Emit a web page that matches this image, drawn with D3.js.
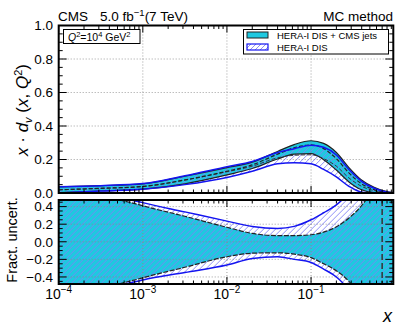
<!DOCTYPE html>
<html><head><meta charset="utf-8">
<script src="https://cdn.jsdelivr.net/npm/d3@7"></script>
<style>
html,body{margin:0;padding:0;background:#fff;}
svg{display:block;font-family:"Liberation Sans",Arial,Helvetica,sans-serif;}
</style></head>
<body><svg id="c" width="399" height="332"></svg>
<script>
// ---- data ----
const xVals = [1e-4, 3.16e-4, 1e-3, 3.16e-3, 1e-2, 0.02, 0.04, 0.063, 0.1, 0.141, 0.2, 0.282, 0.398, 0.562, 0.794, 0.95];
// top panel: x*dv(x,Q2)
const cmsCentral  = [0.019,0.028,0.039,0.078,0.130,0.168,0.232,0.270,0.287,0.265,0.205,0.120,0.055,0.020,0.004,0.001];
const cmsUp       = [0.036,0.044,0.055,0.100,0.151,0.184,0.248,0.289,0.312,0.296,0.242,0.152,0.078,0.034,0.008,0.002];
const cmsLo       = [0.002,0.012,0.023,0.055,0.108,0.146,0.203,0.232,0.235,0.199,0.137,0.066,0.019,0.003,0.000,0.000];
const heraCentral = [0.019,0.028,0.039,0.077,0.127,0.160,0.210,0.225,0.228,0.205,0.160,0.090,0.040,0.014,0.003,0.0005];
const heraUp      = [0.038,0.044,0.056,0.103,0.157,0.188,0.242,0.264,0.285,0.273,0.227,0.140,0.070,0.028,0.006,0.001];
const heraLo      = [0.000,0.012,0.022,0.050,0.093,0.130,0.174,0.180,0.174,0.141,0.096,0.040,0.005,0.000,0.000,0.000];
// bottom panel: fractional uncertainties
const cmsUpF  = [0.90,0.56,0.41,0.29,0.165,0.095,0.07,0.07,0.08,0.11,0.17,0.27,0.41,0.62,0.90,1.10];
const cmsLoF  = [-0.90,-0.56,-0.41,-0.29,-0.17,-0.13,-0.125,-0.14,-0.18,-0.25,-0.33,-0.45,-0.65,-0.90,-1.10,-1.20];
const heraUpF = [1.00,0.58,0.445,0.34,0.235,0.175,0.152,0.175,0.25,0.33,0.42,0.56,0.80,1.00,1.20,1.30];
const heraLoF = [-1.00,-0.58,-0.435,-0.35,-0.265,-0.19,-0.17,-0.20,-0.235,-0.31,-0.40,-0.55,-0.80,-1.00,-1.20,-1.30];
const xTicks = [1e-4, 1e-3, 1e-2, 1e-1];
const xTickExp = ["\u22124","\u22123","\u22122","\u22121"];
const yTicksTop = [0.0,0.2,0.4,0.6,0.8,1.0];
const yTicksBot = [-0.4,-0.2,0.0,0.2,0.4];
const dashedX = 0.7;

// ---- layout ----
const L = 58.7, R = 393.3;
const topY0 = 25.5, topY1 = 193;
const botY0 = 200, botY1 = 284;
const CYAN = "#1fc8e0", BLUE = "#1414f0", HATCH = "#8282f5", DARK = "#222";

const svg = d3.select("#c");
const x = d3.scaleLog().domain([1e-4, 0.95]).range([L, R]);
const yT = d3.scaleLinear().domain([0, 1]).range([topY1, topY0]);
const yB = d3.scaleLinear().domain([-0.48, 0.475]).range([botY1, botY0]);

const defs = svg.append("defs");
defs.append("clipPath").attr("id","clipT").append("rect")
  .attr("x",L).attr("y",topY0).attr("width",R-L).attr("height",topY1-topY0);
defs.append("clipPath").attr("id","clipB").append("rect")
  .attr("x",L).attr("y",botY0).attr("width",R-L).attr("height",botY1-botY0);

const idx = d3.range(xVals.length);
const curve = d3.curveMonotoneX;
function band(y, lo, hi){ return d3.area().curve(curve).x(i=>x(xVals[i])).y0(i=>y(lo[i])).y1(i=>y(hi[i]))(idx); }
function line(y, v){ return d3.line().curve(curve).x(i=>x(xVals[i])).y(i=>y(v[i]))(idx); }

function hatchInto(g, id, d, x0, x1, y0, y1, step){
  defs.append("clipPath").attr("id",id).append("path").attr("d",d);
  const hg = g.append("g").attr("clip-path",`url(#${id})`);
  const H = y1 - y0;
  for (let s = x0 - H - step; s < x1 + step; s += step){
    hg.append("line").attr("x1",s).attr("y1",y1).attr("x2",s+H).attr("y2",y0)
      .attr("stroke",HATCH).attr("stroke-width",0.9);
  }
}

function grid(g, y, yt){
  xTicks.slice(1).forEach(t=>{
    g.append("line").attr("x1",x(t)).attr("x2",x(t)).attr("y1",y.range()[1]).attr("y2",y.range()[0])
      .attr("stroke","#888").attr("stroke-width",0.8).attr("stroke-dasharray","1,2");
  });
  yt.forEach(t=>{
    g.append("line").attr("x1",L).attr("x2",R).attr("y1",y(t)).attr("y2",y(t))
      .attr("stroke","#888").attr("stroke-width",0.8).attr("stroke-dasharray","1,2");
  });
}
function ticks(g, y, yt, minorStep){
  const [yb, ytop] = y.range();
  const minors = [];
  for (let e=-4; e<0; e++) for (let m=1; m<10; m++){ const v=m*Math.pow(10,e); if (v<=0.95) minors.push([v, m===1]); }
  minors.forEach(([v,maj])=>{
    const len = maj?7:3.5;
    g.append("line").attr("x1",x(v)).attr("x2",x(v)).attr("y1",yb).attr("y2",yb-len).attr("stroke","#000").attr("stroke-width",1);
    g.append("line").attr("x1",x(v)).attr("x2",x(v)).attr("y1",ytop).attr("y2",ytop+len).attr("stroke","#000").attr("stroke-width",1);
  });
  const d0 = y.domain()[0], d1 = y.domain()[1];
  for (let v = Math.ceil(d0/minorStep)*minorStep; v <= d1+1e-9; v += minorStep){
    const vr = Math.round(v*1000)/1000;
    const maj = yt.some(t=>Math.abs(t-vr)<1e-6);
    const len = maj?8:4;
    g.append("line").attr("x1",L).attr("x2",L+len).attr("y1",y(vr)).attr("y2",y(vr)).attr("stroke","#000");
    g.append("line").attr("x1",R).attr("x2",R-len).attr("y1",y(vr)).attr("y2",y(vr)).attr("stroke","#000");
  }
}

// ---- top panel ----
const gT = svg.append("g").attr("clip-path","url(#clipT)");
gT.append("path").attr("d",band(yT,cmsLo,cmsUp)).attr("fill",CYAN);
hatchInto(gT, "hT", band(yT,heraLo,heraUp), L, R, topY0, topY1, 6);
grid(gT, yT, [0.2,0.4,0.6,0.8]);
gT.append("path").attr("d",line(yT,cmsUp)).attr("fill","none").attr("stroke",DARK).attr("stroke-width",1.2);
gT.append("path").attr("d",line(yT,cmsLo)).attr("fill","none").attr("stroke",DARK).attr("stroke-width",1.2);
gT.append("path").attr("d",line(yT,heraCentral)).attr("fill","none").attr("stroke","#334").attr("stroke-width",1).attr("stroke-dasharray","4,2");
gT.append("path").attr("d",line(yT,cmsCentral)).attr("fill","none").attr("stroke",DARK).attr("stroke-width",1.2).attr("stroke-dasharray","4,2");
gT.append("path").attr("d",line(yT,heraUp)).attr("fill","none").attr("stroke",BLUE).attr("stroke-width",1.5);
gT.append("path").attr("d",line(yT,heraLo)).attr("fill","none").attr("stroke",BLUE).attr("stroke-width",1.5);
ticks(svg.append("g"), yT, yTicksTop, 0.05);
svg.append("rect").attr("x",L).attr("y",topY0).attr("width",R-L).attr("height",topY1-topY0)
  .attr("fill","none").attr("stroke","#000").attr("stroke-width",2);

// ---- bottom panel ----
const gB = svg.append("g").attr("clip-path","url(#clipB)");
gB.append("path").attr("d",band(yB,cmsLoF,cmsUpF)).attr("fill",CYAN);
hatchInto(gB, "hB", band(yB,heraLoF,heraUpF), L, R, botY0, botY1, 6);
grid(gB, yB, yTicksBot);
gB.append("path").attr("d",line(yB,cmsUpF)).attr("fill","none").attr("stroke",DARK).attr("stroke-width",1.2).attr("stroke-dasharray","5,1.5");
gB.append("path").attr("d",line(yB,cmsLoF)).attr("fill","none").attr("stroke",DARK).attr("stroke-width",1.2).attr("stroke-dasharray","5,1.5");
gB.append("path").attr("d",line(yB,heraUpF)).attr("fill","none").attr("stroke",BLUE).attr("stroke-width",1.5);
gB.append("path").attr("d",line(yB,heraLoF)).attr("fill","none").attr("stroke",BLUE).attr("stroke-width",1.5);
gB.append("line").attr("x1",x(dashedX)).attr("x2",x(dashedX)).attr("y1",botY0).attr("y2",botY1)
  .attr("stroke","#333").attr("stroke-width",1.5).attr("stroke-dasharray","6,3");
ticks(svg.append("g"), yB, yTicksBot, 0.05);
svg.append("rect").attr("x",L).attr("y",botY0).attr("width",R-L).attr("height",botY1-botY0)
  .attr("fill","none").attr("stroke","#000").attr("stroke-width",2);

// ---- tick labels ----
const fs = 13.5;
yTicksTop.forEach(t=>{
  svg.append("text").attr("x",53).attr("y",yT(t)+4.8).attr("text-anchor","end").attr("font-size",fs).text(t.toFixed(1));
});
yTicksBot.forEach(t=>{
  svg.append("text").attr("x",53).attr("y",yB(t)+4.8).attr("text-anchor","end").attr("font-size",fs)
    .text((t<0?"\u2212":"")+Math.abs(t).toFixed(1));
});
xTicks.forEach((t,i)=>{
  const tx = svg.append("text").attr("x",x(t)).attr("y",298.5).attr("text-anchor","middle").attr("font-size",14);
  tx.append("tspan").text("10");
  tx.append("tspan").attr("dy",-6).attr("font-size",10).text(xTickExp[i]);
});

// ---- titles ----
svg.append("text").attr("x",58).attr("y",20.5).attr("font-size",13.5).text("CMS");
const lum = svg.append("text").attr("x",100).attr("y",20.5).attr("font-size",13.5);
lum.append("tspan").text("5.0 fb");
lum.append("tspan").attr("dy",-5).attr("font-size",9.5).text("\u22121");
lum.append("tspan").attr("dy",5).text("(7 TeV)");
svg.append("text").attr("x",393).attr("y",20.5).attr("text-anchor","end").attr("font-size",13.5).text("MC method");

const yl = svg.append("text").attr("transform","translate(28,110) rotate(-90)").attr("text-anchor","middle").attr("font-size",17);
yl.append("tspan").attr("font-style","italic").text("x");
yl.append("tspan").text(" \u00b7 ");
yl.append("tspan").attr("font-style","italic").text("d");
yl.append("tspan").attr("dy",3.5).attr("font-size",11).attr("font-style","italic").text("v");
yl.append("tspan").attr("dy",-3.5).text(" (");
yl.append("tspan").attr("font-style","italic").text("x");
yl.append("tspan").text(", ");
yl.append("tspan").attr("font-style","italic").text("Q");
yl.append("tspan").attr("dy",-6).attr("font-size",11).text("2");
yl.append("tspan").attr("dy",6).text(")");

svg.append("text").attr("transform","translate(17,240) rotate(-90)").attr("text-anchor","middle").attr("font-size",14.5).text("Fract. uncert.");
svg.append("text").attr("x",392).attr("y",322).attr("text-anchor","end").attr("font-size",18).attr("font-style","italic").text("x");

// ---- Q2 box ----
svg.append("rect").attr("x",63.5).attr("y",29.5).attr("width",76.5).attr("height",14).attr("fill","#fff").attr("stroke","#000").attr("stroke-width",1);
const q = svg.append("text").attr("x",68).attr("y",40.5).attr("font-size",10.5);
q.append("tspan").attr("font-style","italic").text("Q");
q.append("tspan").attr("dy",-4).attr("font-size",7.5).text("2");
q.append("tspan").attr("dy",4).text("=10");
q.append("tspan").attr("dy",-4).attr("font-size",7.5).text("4");
q.append("tspan").attr("dy",4).text(" GeV");
q.append("tspan").attr("dy",-4).attr("font-size",7.5).text("2");

// ---- legend ----
svg.append("rect").attr("x",243.5).attr("y",29.5).attr("width",145).attr("height",24.5).attr("fill","#fff").attr("stroke","#000").attr("stroke-width",1);
svg.append("rect").attr("x",247).attr("y",32).attr("width",21).attr("height",6).attr("fill",CYAN).attr("stroke",DARK).attr("stroke-width",1);
const lg = svg.append("g");
defs.append("clipPath").attr("id","hL").append("rect").attr("x",247).attr("y",44).attr("width",21).attr("height",6);
const lh = lg.append("g").attr("clip-path","url(#hL)");
for (let s = 240; s < 272; s += 5) lh.append("line").attr("x1",s).attr("y1",50).attr("x2",s+6).attr("y2",44).attr("stroke",HATCH).attr("stroke-width",0.9);
lg.append("rect").attr("x",247).attr("y",44).attr("width",21).attr("height",6).attr("fill","none").attr("stroke",BLUE).attr("stroke-width",1.2);
svg.append("text").attr("x",277).attr("y",39).attr("font-size",9.5).text("HERA-I DIS + CMS jets");
svg.append("text").attr("x",277).attr("y",51).attr("font-size",9.5).text("HERA-I DIS");
</script></body></html>
